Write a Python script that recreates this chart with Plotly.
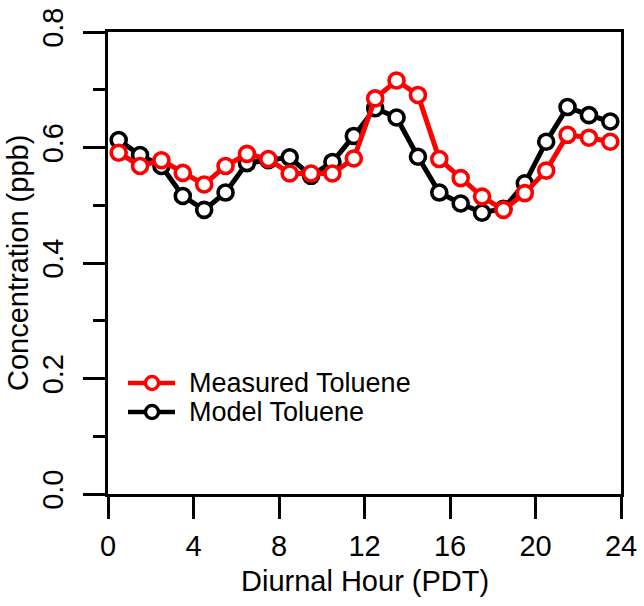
import plotly.graph_objects as go

hours = [0.5, 1.5, 2.5, 3.5, 4.5, 5.5, 6.5, 7.5, 8.5, 9.5, 10.5, 11.5,
         12.5, 13.5, 14.5, 15.5, 16.5, 17.5, 18.5, 19.5, 20.5, 21.5, 22.5, 23.5]
measured = [0.591, 0.568, 0.578, 0.556, 0.536, 0.568, 0.589, 0.580, 0.555, 0.555, 0.555, 0.581,
            0.685, 0.716, 0.691, 0.580, 0.547, 0.515, 0.492, 0.521, 0.560, 0.622, 0.617, 0.610]
model = [0.613, 0.587, 0.568, 0.516, 0.492, 0.522, 0.573, 0.578, 0.583, 0.551, 0.575, 0.620,
         0.668, 0.652, 0.584, 0.522, 0.503, 0.487, 0.494, 0.538, 0.610, 0.670, 0.656, 0.645]
x_ticks = [0, 4, 8, 12, 16, 20, 24]
y_ticks = [0.0, 0.2, 0.4, 0.6, 0.8]
y_tick_labels = ["0.0", "0.2", "0.4", "0.6", "0.8"]
series_names = ["Measured Toluene", "Model Toluene"]
series_colors = ["#ff0000", "black"]

FONT = "Liberation Sans, Arial, sans-serif"

# plot area in pixels
L, R, T, B = 108, 621, 32, 494
W, H = 644, 606
PW, PH = R - L, B - T


def px_x(p):
    return (p - L) / PW


def px_y(p):
    return (B - p) / PH


fig = go.Figure()
fig.add_trace(go.Scatter(
    x=hours, y=model, name=series_names[1], mode="lines+markers",
    line=dict(color=series_colors[1], width=5),
    marker=dict(symbol="circle", size=15, color="white", line=dict(color=series_colors[1], width=3.6)),
    showlegend=False,
))
fig.add_trace(go.Scatter(
    x=hours, y=measured, name=series_names[0], mode="lines+markers",
    line=dict(color=series_colors[0], width=5),
    marker=dict(symbol="circle", size=15, color="white", line=dict(color=series_colors[0], width=3.6)),
    showlegend=False,
))

axis_common = dict(
    showline=True, linecolor="black", linewidth=3, mirror=True,
    ticks="outside", ticklen=22, tickwidth=3, tickcolor="black",
    showgrid=False, zeroline=False, automargin=False,
    tickfont=dict(family=FONT, size=29, color="black"),
)

fig.update_xaxes(range=[0, 24], tickvals=x_ticks, ticktext=[str(v) for v in x_ticks],
                 ticklabelstandoff=2, **axis_common)
fig.update_yaxes(range=[0, 0.8], tickvals=y_ticks, ticktext=y_tick_labels, tickangle=-90,
                 ticklabelstandoff=8,
                 minor=dict(dtick=0.1, ticklen=12, tickwidth=3, tickcolor="black", ticks="outside"),
                 **axis_common)

fig.add_annotation(text="Diurnal Hour (PDT)", xref="paper", yref="paper", x=0.5, y=px_y(581),
                   xanchor="center", yanchor="middle", showarrow=False,
                   font=dict(family=FONT, size=29, color="black"))
fig.add_annotation(text="Concentration (ppb)", xref="paper", yref="paper", x=px_x(18), y=0.5,
                   xanchor="center", yanchor="middle", showarrow=False, textangle=-90,
                   font=dict(family=FONT, size=29, color="black"))

# legend (drawn as keys + text)
legend_rows = [383, 412]
shapes = []
for name, color, yrow in zip(series_names, series_colors, legend_rows):
    shapes.append(dict(type="line", xref="paper", yref="paper",
                       x0=px_x(128), x1=px_x(175), y0=px_y(yrow), y1=px_y(yrow),
                       line=dict(color=color, width=4.5)))
    shapes.append(dict(type="circle", xref="paper", yref="paper",
                       x0=px_x(152 - 6.5), x1=px_x(152 + 6.5),
                       y0=px_y(yrow + 6.5), y1=px_y(yrow - 6.5),
                       fillcolor="white", line=dict(color=color, width=3.4)))
    fig.add_annotation(text=name, xref="paper", yref="paper", x=px_x(187), y=px_y(yrow),
                       xanchor="left", yanchor="middle", showarrow=False,
                       font=dict(family=FONT, size=27, color="black"))

fig.update_layout(
    width=W, height=H,
    margin=dict(l=L, r=W - R, t=T, b=H - B),
    plot_bgcolor="white", paper_bgcolor="white",
    showlegend=False,
    shapes=shapes,
)

fig.write_html("out.html")
